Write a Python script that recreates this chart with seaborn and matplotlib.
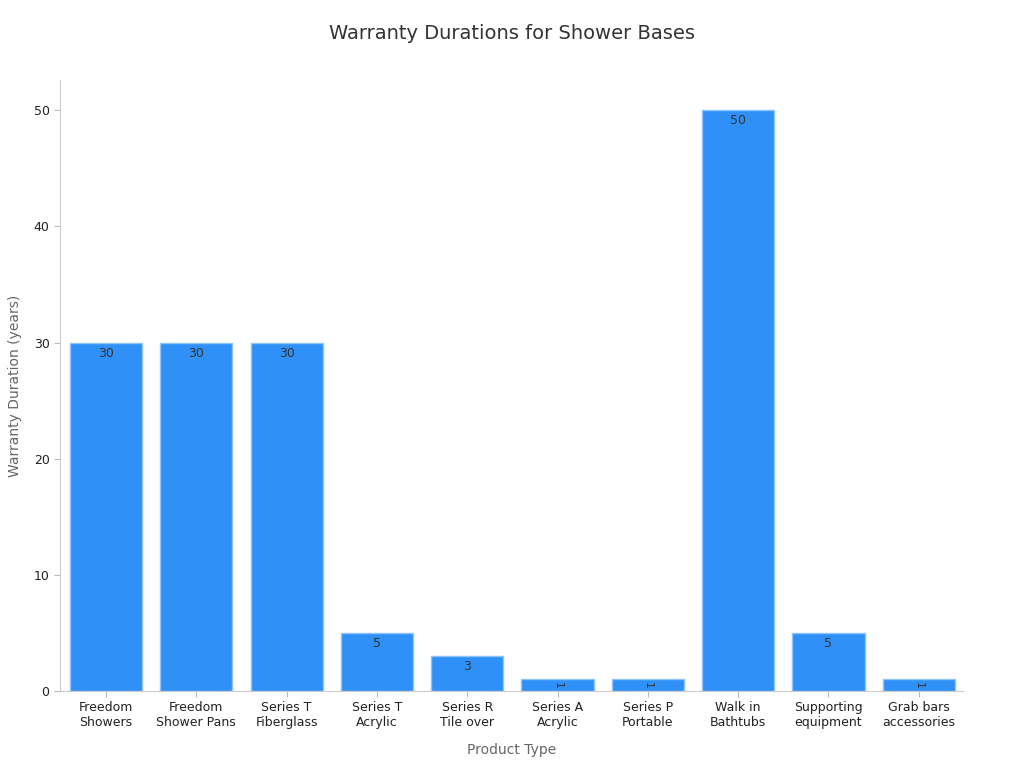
import matplotlib
matplotlib.use("Agg")
import matplotlib.pyplot as plt
import seaborn as sns
import pandas as pd

categories = ["Freedom\nShowers", "Freedom\nShower Pans", "Series T\nFiberglass",
              "Series T\nAcrylic", "Series R\nTile over", "Series A\nAcrylic",
              "Series P\nPortable", "Walk in\nBathtubs", "Supporting\nequipment",
              "Grab bars\naccessories"]
warranty_years = [30, 30, 30, 5, 3, 1, 1, 50, 5, 1]

df = pd.DataFrame({"Product Type": categories, "Warranty": warranty_years})

sns.set_style("white")
plt.rcParams["font.family"] = ["DejaVu Sans"]

fig = plt.figure(figsize=(10.24, 7.68), dpi=100)
ax = fig.add_axes([0.0586, 0.1003, 0.8818, 0.7955])

sns.barplot(data=df, x="Product Type", y="Warranty", color="#2f91f7",
            edgecolor="#8cc4fb", linewidth=1, width=0.8, saturation=1, ax=ax)

# value labels inside bar tops
for i, v in enumerate(warranty_years):
    if v <= 1:
        ax.text(i, v / 2, str(v), ha="center", va="center", rotation=-90,
                fontsize=8, color="#333333")
    else:
        ax.annotate(str(v), (i, v), xytext=(0, -3), textcoords="offset points",
                    ha="center", va="top", fontsize=9, color="#333333")

ax.set_ylim(0, 52.6)
ax.set_xlim(-0.51, 9.49)
ax.set_yticks([0, 10, 20, 30, 40, 50])
ax.tick_params(axis="both", length=4, color="#bbbbbb", labelsize=9,
               labelcolor="#222222", bottom=True, left=True)
for s in ["top", "right"]:
    ax.spines[s].set_visible(False)
for s in ["left", "bottom"]:
    ax.spines[s].set_color("#cccccc")

ax.set_xlabel("Product Type", fontsize=10, color="#666666", labelpad=10)
ax.set_ylabel("Warranty Duration (years)", fontsize=10, color="#666666", labelpad=8)
fig.suptitle("Warranty Durations for Shower Bases", y=0.969, fontsize=14,
             color="#333333")

fig.savefig("out.png", dpi=100)
